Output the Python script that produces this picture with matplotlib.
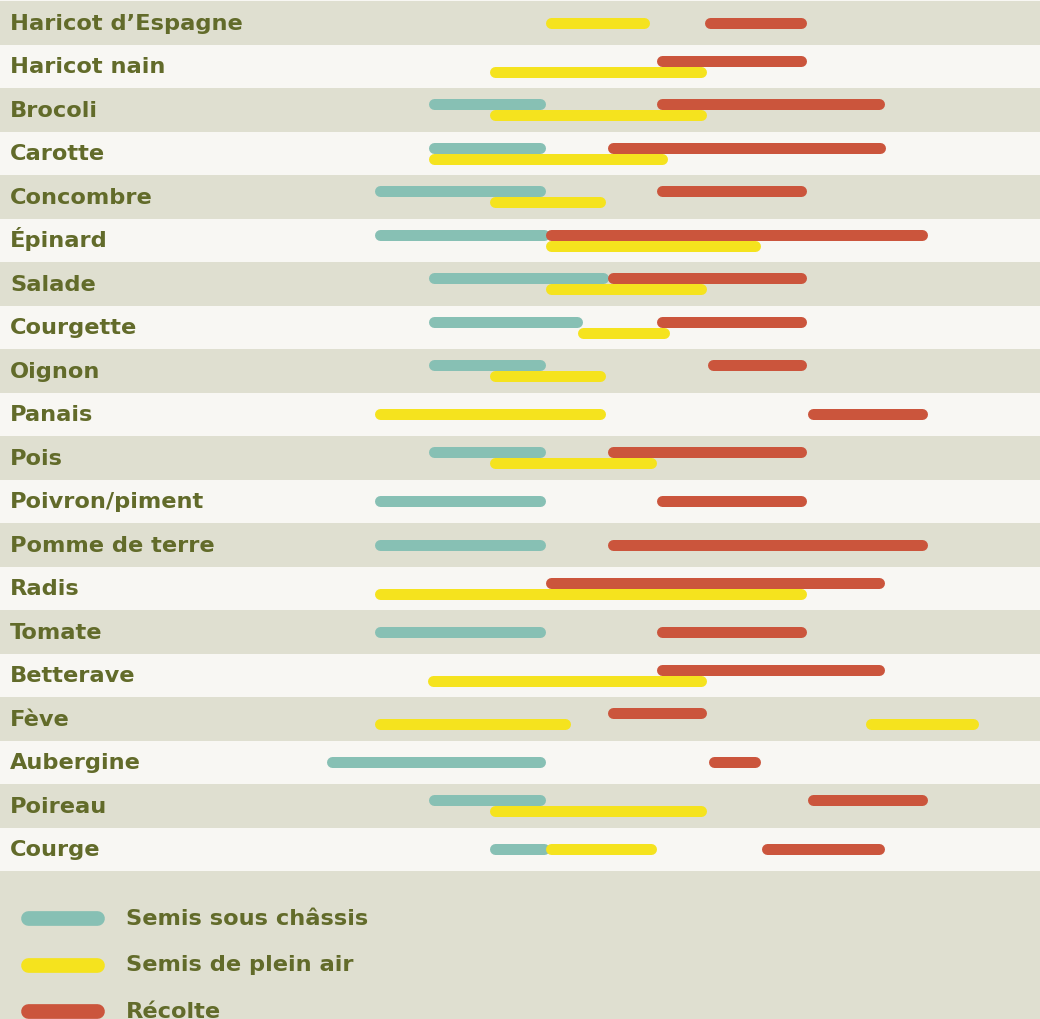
import matplotlib
matplotlib.use("Agg")
import matplotlib.pyplot as plt
from matplotlib.lines import Line2D

# crops, top to bottom
vegetables = ["Haricot d’Espagne", "Haricot nain", "Brocoli", "Carotte", "Concombre",
              "Épinard", "Salade", "Courgette", "Oignon", "Panais", "Pois",
              "Poivron/piment", "Pomme de terre", "Radis", "Tomate", "Betterave",
              "Fève", "Aubergine", "Poireau", "Courge"]

# periods in months from 1 January (0 = start of January, 12 = end of December)
semis_chassis = {
    "Brocoli": [(1.89, 4.03)],
    "Carotte": [(1.89, 4.03)],
    "Concombre": [(0.90, 4.03)],
    "Épinard": [(0.90, 4.10)],
    "Salade": [(1.89, 5.20)],
    "Courgette": [(1.89, 4.72)],
    "Oignon": [(1.89, 4.03)],
    "Pois": [(1.89, 4.03)],
    "Poivron/piment": [(0.90, 4.03)],
    "Pomme de terre": [(0.90, 4.03)],
    "Tomate": [(0.90, 4.03)],
    "Aubergine": [(0.00, 4.03)],
    "Poireau": [(1.89, 4.03)],
    "Courge": [(3.00, 4.10)],
}
semis_plein_air = {
    "Haricot d’Espagne": [(4.03, 5.94)],
    "Haricot nain": [(3.00, 7.00)],
    "Brocoli": [(3.00, 7.00)],
    "Carotte": [(1.89, 6.27)],
    "Concombre": [(3.00, 5.13)],
    "Épinard": [(4.03, 7.98)],
    "Salade": [(4.03, 7.00)],
    "Courgette": [(4.63, 6.31)],
    "Oignon": [(3.00, 5.13)],
    "Panais": [(0.90, 5.13)],
    "Pois": [(3.00, 6.07)],
    "Radis": [(0.90, 8.84)],
    "Betterave": [(1.86, 7.00)],
    "Fève": [(0.90, 4.50), (9.91, 12.00)],
    "Poireau": [(3.00, 7.00)],
    "Courge": [(4.03, 6.07)],
}
recolte = {
    "Haricot d’Espagne": [(6.95, 8.84)],
    "Haricot nain": [(6.07, 8.84)],
    "Brocoli": [(6.07, 10.26)],
    "Carotte": [(5.17, 10.28)],
    "Concombre": [(6.07, 8.84)],
    "Épinard": [(4.03, 11.05)],
    "Salade": [(5.17, 8.84)],
    "Courgette": [(6.07, 8.84)],
    "Oignon": [(7.02, 8.84)],
    "Panais": [(8.86, 11.05)],
    "Pois": [(5.17, 8.84)],
    "Poivron/piment": [(6.07, 8.84)],
    "Pomme de terre": [(5.17, 11.05)],
    "Radis": [(4.03, 10.26)],
    "Tomate": [(6.07, 8.84)],
    "Betterave": [(6.07, 10.26)],
    "Fève": [(5.17, 7.00)],
    "Aubergine": [(7.04, 7.98)],
    "Poireau": [(8.86, 11.05)],
    "Courge": [(8.00, 10.26)],
}
# rows where everything sits on one line
single_lane = ["Haricot d’Espagne", "Panais", "Poivron/piment", "Pomme de terre",
               "Tomate", "Aubergine", "Courge"]

legend_labels = ["Semis sous châssis", "Semis de plein air", "Récolte"]

TEAL = "#87c0b4"
YELLOW = "#f5e31e"
RED = "#cb553c"
BEIGE = "#dfdfd0"
LIGHT = "#f8f7f3"
OLIVE = "#626b2a"
FONT = dict(family="DejaVu Sans", fontweight="bold", fontsize=16.2, color=OLIVE)

W, H = 1040, 1020
fig = plt.figure(figsize=(W / 100, H / 100), dpi=100, facecolor=LIGHT)
ax = fig.add_axes([0, 0, 1, 1])
ax.set_axis_off()

# pixel layout: month 0 at x=326, 54.4 px per month; rows 43.5 px tall from y=2
px_month, x0 = 54.4, 326
row_h, y0 = 43.5, 2
ax.set_xlim(-x0 / px_month, (W - x0) / px_month)
ax.set_ylim((H - y0) / row_h, -y0 / row_h)

n = len(vegetables)
for i in range(n):
    ax.axhspan(i, i + 1, color=BEIGE if i % 2 == 0 else LIGHT, lw=0, zorder=0)
ax.axhspan(n, (H - y0) / row_h + 1, color=BEIGE, lw=0, zorder=0)

lw_px = 11
cap = lw_px / 2 / px_month
lane = 5.5 / row_h


def draw(series, color, lower, z):
    for name, spans in series.items():
        i = vegetables.index(name)
        yc = i + 0.5
        if name not in single_lane:
            yc += lane if lower else -lane
        for s, e in spans:
            ax.plot([s + cap, e - cap], [yc, yc], color=color, lw=lw_px * 0.72,
                    solid_capstyle="round", zorder=z)


draw(semis_chassis, TEAL, False, 2)
draw(recolte, RED, False, 3)
draw(semis_plein_air, YELLOW, True, 4)

# labels sit on a baseline a little below the row centre
for i, name in enumerate(vegetables):
    ax.text(10 / W, i + 0.5 + 6 / row_h, name, transform=ax.get_yaxis_transform(),
            ha="left", va="baseline", **FONT)

# legend
for k, (lab, col) in enumerate(zip(legend_labels, [TEAL, YELLOW, RED])):
    yy = 1 - (919 + 46.5 * k) / H
    fig.add_artist(Line2D([27.5 / W, 96.5 / W], [yy, yy], color=col, lw=10.6,
                          solid_capstyle="round", transform=fig.transFigure))
    fig.text(126 / W, yy - 6 / H, lab, ha="left", va="baseline", **FONT)

fig.savefig("out.png", dpi=100, facecolor=LIGHT)
